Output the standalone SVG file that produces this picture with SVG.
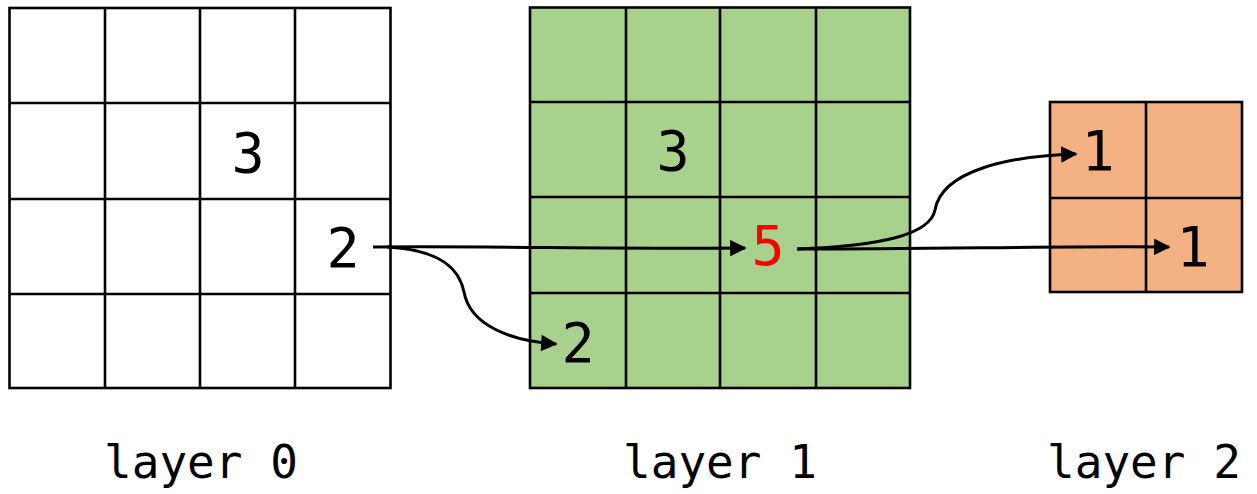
<svg xmlns="http://www.w3.org/2000/svg" width="1257" height="494" viewBox="0 0 1257 494">
  <style>
    .grid { stroke: #000; stroke-width: 2.6; }
    .cell { font-family: "DejaVu Sans Mono", "Liberation Mono", monospace; font-size: 55px; text-anchor: middle; fill: #000; }
    .hot { fill: #ff0000; }
    .label { font-family: "DejaVu Sans Mono", "Liberation Mono", monospace; font-size: 46px; fill: #000; }
    .link { fill: none; stroke: #000; stroke-width: 3; marker-end: url(#head); }
  </style>
  <defs>
    <marker id="head" viewBox="0 0 10 10" refX="9" refY="5" markerWidth="6" markerHeight="5.5" orient="auto" markerUnits="strokeWidth">
      <path d="M0,0 L10,5 L0,10 z" fill="#000"/>
    </marker>
  </defs>

  <!-- layer 0: 4x4 grid -->
  <g id="layer0">
    <rect x="9.5" y="8" width="381" height="380" fill="#fff" class="grid"/>
    <path class="grid" d="M105,8 V388 M200,8 V388 M295,8 V388 M9.5,103 H390.5 M9.5,199 H390.5 M9.5,294 H390.5"/>
    <text class="cell" x="248" y="172">3</text>
    <text class="cell" x="343" y="267">2</text>
    <text class="label" x="104" y="478">layer 0</text>
  </g>

  <!-- layer 1: 4x4 grid -->
  <g id="layer1">
    <rect x="530" y="7.5" width="380" height="380.5" fill="#a9d18e" class="grid"/>
    <path class="grid" d="M626,7.5 V388 M720,7.5 V388 M816,7.5 V388 M530,102 H910 M530,197 H910 M530,293 H910"/>
    <text class="cell" x="673" y="170">3</text>
    <text class="cell hot" x="768" y="265">5</text>
    <text class="cell" x="578" y="362">2</text>
    <text class="label" x="623" y="478">layer 1</text>
  </g>

  <!-- layer 2: 2x2 grid -->
  <g id="layer2">
    <rect x="1050" y="102" width="192" height="190" fill="#f4b183" class="grid"/>
    <path class="grid" d="M1146,102 V292 M1050,198 H1242"/>
    <text class="cell" x="1098" y="170">1</text>
    <text class="cell" x="1193" y="266">1</text>
    <text class="label" x="1047" y="478">layer 2</text>
  </g>

  <!-- propagation arrows -->
  <g id="connectors">
    <path class="link" d="M373,247 C500,246 600,249 745,248"/>
    <path class="link" d="M387,247 C445,250 460,272 464,292 C470,325 510,341 556,344"/>
    <path class="link" d="M797,249 C880,246 930,235 935,210 C942,170 1010,156 1076,154"/>
    <path class="link" d="M797,249 C950,249 1050,246 1169,247"/>
  </g>
</svg>
